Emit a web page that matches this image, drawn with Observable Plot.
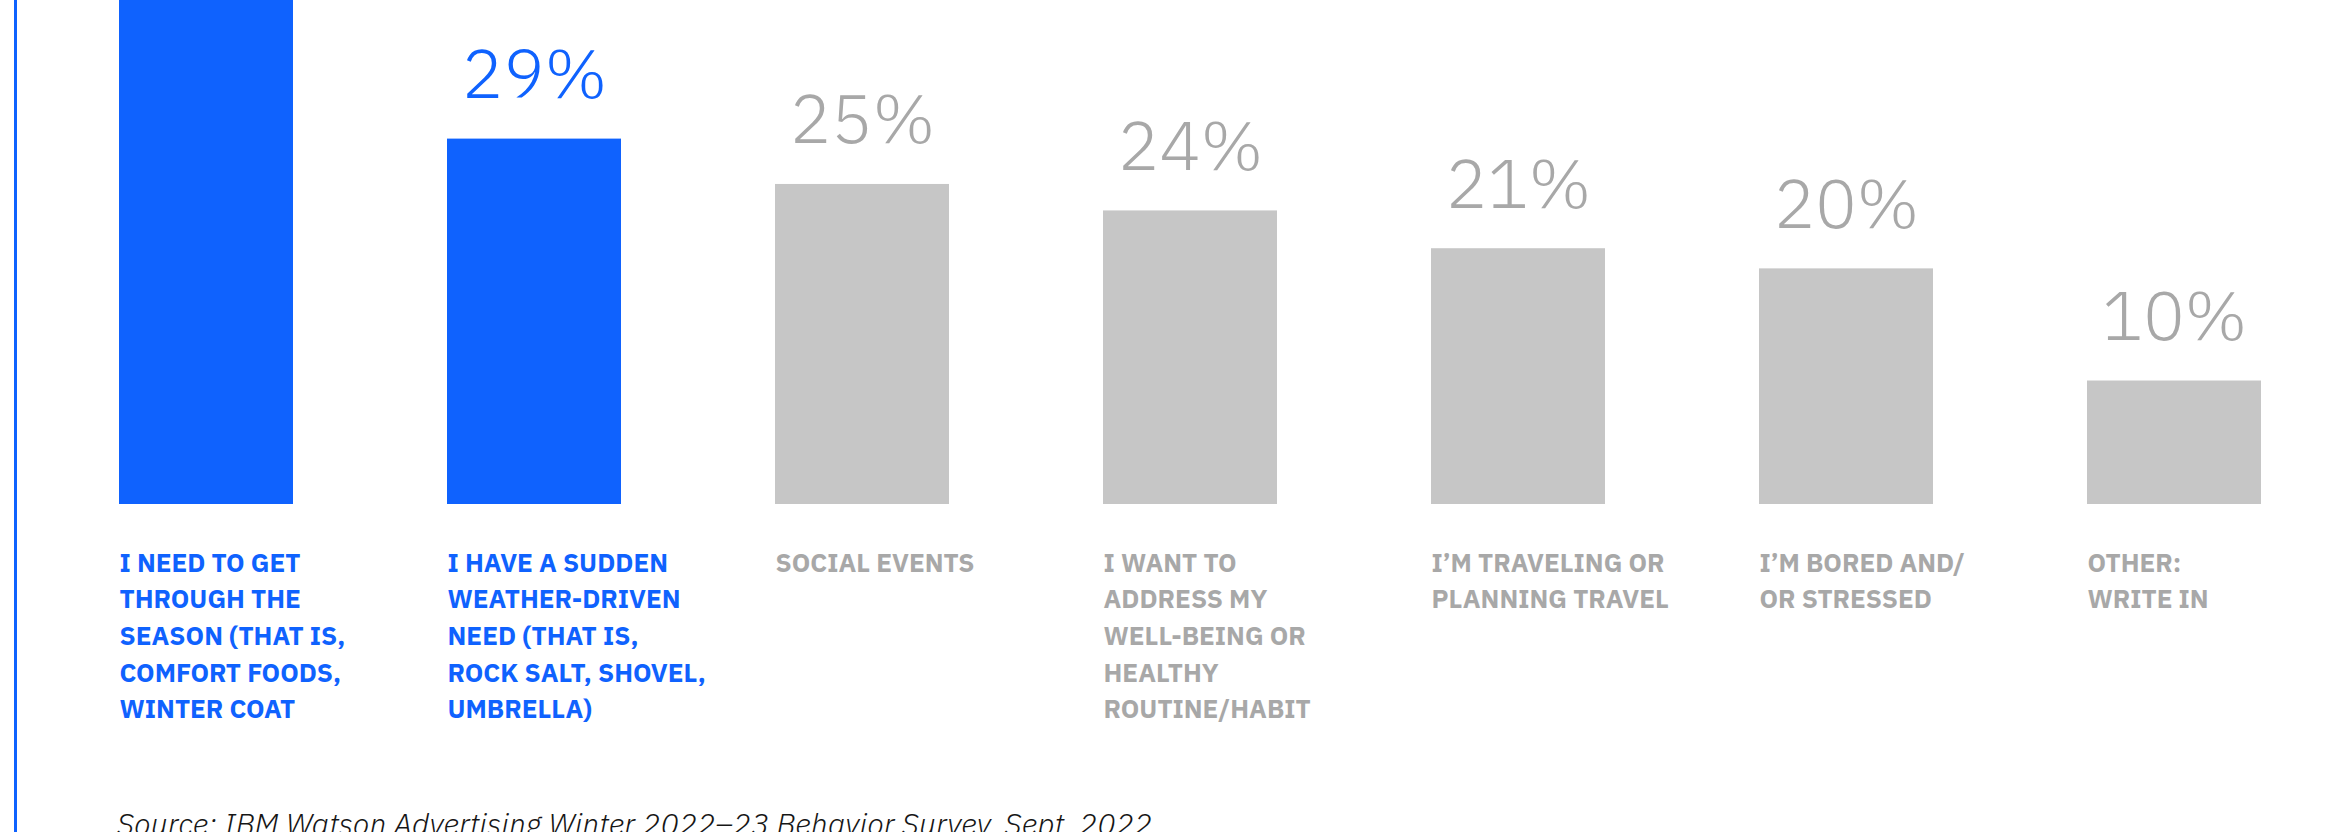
<!DOCTYPE html>
<html>
<head>
<meta charset="utf-8">
<script src="https://cdn.jsdelivr.net/npm/d3@7"></script>
<script src="https://cdn.jsdelivr.net/npm/@observablehq/plot@0.6"></script>
<style>
  html, body { margin: 0; padding: 0; background: #fff; }
  #wrap { position: relative; width: 2340px; height: 832px; overflow: hidden; }
  #rule { position: absolute; left: 14px; top: 0; width: 3px; height: 832px; background: #0f62fe; }
  #caption { margin: 0 0 0 117px; font-family: "IBM Plex Sans", Roboto, sans-serif; font-style: italic; font-weight: 300;
             font-size: 30.5px; line-height: 30px; color: #161616; white-space: nowrap; }
</style>
</head>
<body>
<div id="wrap">
  <div id="chart"></div>
  <div id="caption"></div>
  <div id="rule"></div>
</div>
<script>
// ---- data ----
const categories = [
  "I NEED TO GET\nTHROUGH THE\nSEASON (THAT IS,\nCOMFORT FOODS,\nWINTER COAT",
  "I HAVE A SUDDEN\nWEATHER-DRIVEN\nNEED (THAT IS,\nROCK SALT, SHOVEL,\nUMBRELLA)",
  "SOCIAL EVENTS",
  "I WANT TO\nADDRESS MY\nWELL-BEING OR\nHEALTHY\nROUTINE/HABIT",
  "I’M TRAVELING OR\nPLANNING TRAVEL",
  "I’M BORED AND/\nOR STRESSED",
  "OTHER:\nWRITE IN"
];
// bar heights (first bar runs off the top of the crop)
const values = [44, 29, 25.4, 23.3, 20.3, 18.7, 9.8];
const valueLabels = [null, "29%", "25%", "24%", "21%", "20%", "10%"];
const highlighted = [true, true, false, false, false, false, false];
const source = "Source: IBM Watson Advertising Winter 2022–23 Behavior Survey, Sept. 2022";

// ---- styling / layout ----
const BLUE = "#0f62fe", BAR_GRAY = "#c6c6c6", TEXT_GRAY = "#a8a8a8";
const W = 2340, H = 809, BASELINE = 504;
const ML = 118, MR = 79, PAD = 0.47;
const bandwidth = (W - ML - MR) / (categories.length - PAD) * (1 - PAD);

const data = categories.map((c, i) => ({cat: c, value: values[i], label: valueLabels[i], hi: highlighted[i]}));

const chart = Plot.plot({
  width: W,
  height: H,
  marginLeft: ML,
  marginRight: MR,
  marginTop: 0,
  marginBottom: H - BASELINE,
  x: {domain: categories, paddingInner: PAD, paddingOuter: 0, axis: null},
  y: {domain: [0, 40], axis: null},
  color: {type: "identity"},
  marks: [
    Plot.barY(data, {x: "cat", y: "value", fill: d => d.hi ? BLUE : BAR_GRAY, clip: true}),
    Plot.text(data.filter(d => d.label != null), {
      x: "cat", y: "value", text: "label",
      dy: -41, lineAnchor: "bottom",
      fontSize: 69, fontWeight: 300, fontFamily: "'IBM Plex Sans', Roboto, sans-serif",
      fill: d => d.hi ? BLUE : TEXT_GRAY
    }),
    Plot.text(data, {
      x: "cat", text: "cat",
      frameAnchor: "bottom", dy: 41, dx: -bandwidth / 2,
      lineAnchor: "top", textAnchor: "start", lineHeight: 1.41,
      fontSize: 26, fontWeight: 700, fontFamily: "'IBM Plex Sans', Roboto, sans-serif",
      fill: d => d.hi ? BLUE : TEXT_GRAY
    })
  ]
});
document.getElementById("chart").appendChild(chart);
document.getElementById("caption").textContent = source;
</script>
</body>
</html>
